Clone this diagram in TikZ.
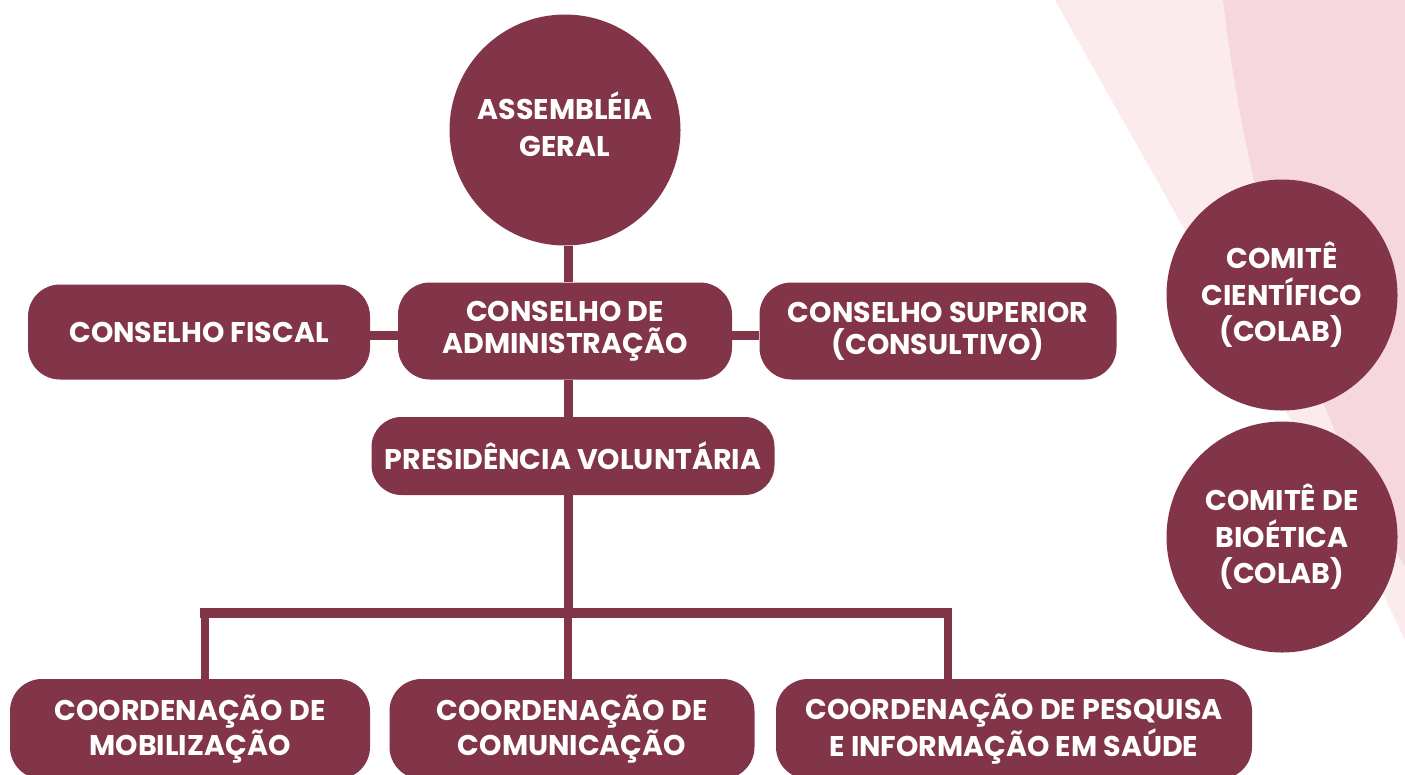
\documentclass[tikz,border=0pt]{standalone}
\usepackage{fontspec}
\setmainfont{Poppins}
\usetikzlibrary{backgrounds}
\definecolor{maroon}{RGB}{130,52,72}
\definecolor{pinkA}{RGB}{251,235,236}
\definecolor{pinkB}{RGB}{246,214,223}
\begin{document}
\begin{tikzpicture}[x=1pt,y=-1pt,
  box/.style={rounded corners=32pt,fill=maroon,text=white,align=center,inner sep=0pt,
    font=\fontsize{28.5}{32}\selectfont\bfseries},
  disc/.style={circle,fill=maroon,text=white,align=center,inner sep=0pt,minimum size=231pt,
    font=\fontsize{28.5}{36.5}\selectfont\bfseries},
  conn/.style={draw=maroon,line width=9pt}]
\useasboundingbox (0,0) rectangle (1405,774);
\clip (0,0) rectangle (1405,774);
% background sweeps
\fill[pinkA] (1055,0) .. controls (1150,170) and (1330,480) .. (1405,640) -- (1405,0) -- cycle;
\fill[pinkB] (1223,0) .. controls (1250,230) and (1320,430) .. (1405,566) -- (1405,0) -- cycle;
% nodes
\node[disc] (asm) at (565,130) {\raisebox{4pt}{\begin{tabular}{@{}c@{}}ASSEMBLÉIA\\[0.5pt]GERAL\end{tabular}}};
\node[box,minimum width=342pt,minimum height=95pt] (fis) at (199,332) {CONSELHO FISCAL};
\node[box,minimum width=334pt,minimum height=97pt] (adm) at (565,331) {CONSELHO DE\\ADMINISTRAÇÃO};
\node[box,minimum width=357pt,minimum height=97pt] (sup) at (938,331) {CONSELHO SUPERIOR\\(CONSULTIVO)};
\node[box,minimum width=403pt,minimum height=78pt,rounded corners=30pt] (pre) at (573,456) {PRESIDÊNCIA VOLUNTÁRIA};
\node[box,minimum width=360pt,minimum height=100pt] (mob) at (190,729) {COORDENAÇÃO DE\\MOBILIZAÇÃO};
\node[box,minimum width=365pt,minimum height=100pt] (com) at (572,729) {COORDENAÇÃO DE\\COMUNICAÇÃO};
\node[box,minimum width=476pt,minimum height=100pt] (pes) at (1014,729) {COORDENAÇÃO DE PESQUISA\\E INFORMAÇÃO EM SAÚDE};
\node[disc] (cie) at (1282,295) {COMITÊ\\CIENTÍFICO\\(COLAB)};
\node[disc] (bio) at (1282,537) {COMITÊ DE\\BIOÉTICA\\(COLAB)};
% connectors
\coordinate (jc) at (568,613);
\coordinate (jl) at (205,613);
\coordinate (jr) at (948,613);
\begin{scope}[on background layer]
\draw[conn] (jc |- asm.south) -- (jc |- adm.north);
\draw[conn] (jc |- adm.south) -- (jc |- pre.north);
\draw[conn] (jc |- pre.south) -- (jc);
\draw[conn] ([yshift=-3pt]fis.east) -- ([yshift=-4pt]adm.west);
\draw[conn] ([yshift=-4pt]adm.east) -- ([yshift=-4pt]sup.west);
\draw[conn,line width=10pt] ([xshift=-5pt]jl) -- ([xshift=4pt]jr);
\draw[conn,line width=8pt] (jl) -- (jl |- mob.north);
\draw[conn,line width=8pt] (jc) -- (jc |- com.north);
\draw[conn,line width=8pt] (jr) -- (jr |- pes.north);
\end{scope}
\end{tikzpicture}
\end{document}
